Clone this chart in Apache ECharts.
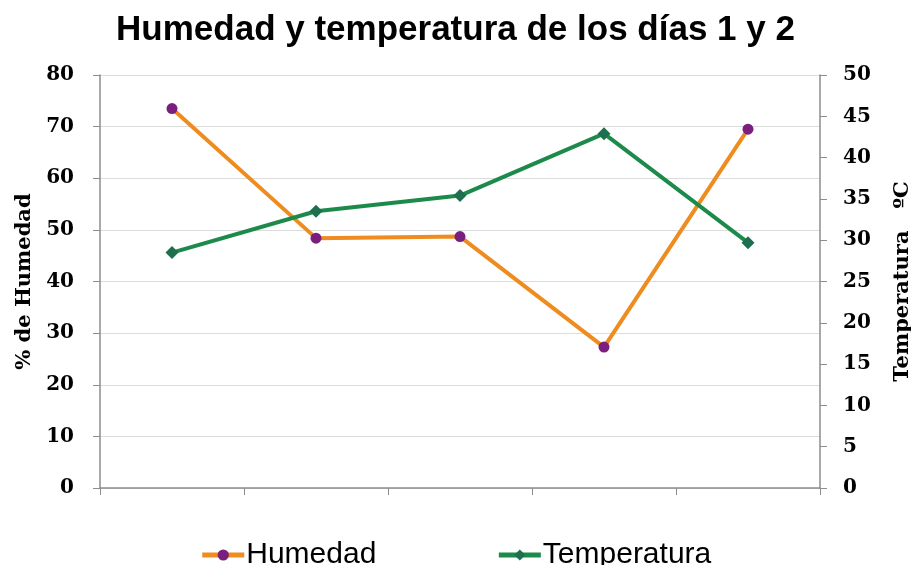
<!DOCTYPE html>
<html>
<head>
<meta charset="utf-8">
<script src="https://cdn.jsdelivr.net/npm/echarts@6/dist/echarts.min.js"></script>
<style>
  html, body { margin: 0; padding: 0; background: #fff; }
  #chart { width: 911px; height: 565px; }
</style>
</head>
<body>
<div id="chart"></div>
<script>
// Humedad (%) y temperatura (ºC) — 5 lecturas de los días 1 y 2
const lecturas = ['1', '2', '3', '4', '5'];
const humedad = [73.5, 48.4, 48.7, 27.3, 69.5];
const temperatura = [28.5, 33.5, 35.4, 42.9, 29.7];

const serif = '"DejaVu Serif", serif';
const sans = '"Liberation Sans", Arial, sans-serif';
const axisGray = '#8c8c8c';

const chart = echarts.init(document.getElementById('chart'), null, { renderer: 'canvas' });

chart.setOption({
  animation: false,
  title: {
    text: 'Humedad y temperatura de los días 1 y 2',
    left: 'center', top: 8,
    textStyle: { fontFamily: sans, fontWeight: 'bold', fontSize: 35, color: '#000' },
  },
  grid: { left: 100, right: 91, top: 75, bottom: 77, outerBoundsMode: 'none' },
  legend: {
    top: 535, left: 'center',
    itemWidth: 42, itemHeight: 14, itemGap: 120,
    lineStyle: { width: 5 },
    textStyle: { fontFamily: sans, fontSize: 30, color: '#000', padding: [0, 0, 0, -3] },
    data: ['Humedad', 'Temperatura'],
  },
  xAxis: {
    type: 'category',
    data: lecturas,
    boundaryGap: true,
    axisLine: { lineStyle: { color: axisGray, width: 1.5 } },
    axisTick: { show: true, length: 7, lineStyle: { color: axisGray } },
    axisLabel: { show: false },
  },
  yAxis: [{
    type: 'value', min: 0, max: 80, interval: 10,
    name: '% de Humedad', nameLocation: 'middle', nameGap: 58, nameRotate: 90,
    nameTextStyle: { fontFamily: serif, fontWeight: 'bold', fontSize: 21, color: '#000' },
    axisLine: { show: true, lineStyle: { color: axisGray, width: 1.5 } },
    axisTick: { show: true, length: 7, lineStyle: { color: axisGray } },
    axisLabel: { fontFamily: serif, fontWeight: 'bold', fontSize: 20, color: '#000', margin: 26 },
    splitLine: { lineStyle: { color: '#dcdcdc' } },
  }, {
    type: 'value', min: 0, max: 50, interval: 5, position: 'right',
    name: 'Temperatura   ºC', nameLocation: 'middle', nameGap: 72, nameRotate: 90,
    nameTextStyle: { fontFamily: serif, fontWeight: 'bold', fontSize: 21, color: '#000' },
    axisLine: { show: true, lineStyle: { color: axisGray, width: 1.5 } },
    axisTick: { show: true, length: 7, lineStyle: { color: axisGray } },
    axisLabel: { fontFamily: serif, fontWeight: 'bold', fontSize: 20, color: '#000', margin: 23 },
    splitLine: { show: false },
  }],
  series: [{
    name: 'Humedad',
    type: 'line',
    yAxisIndex: 0,
    data: humedad,
    symbol: 'circle', symbolSize: 11,
    lineStyle: { color: '#ef8c1f', width: 4 },
    itemStyle: { color: '#7a1f7d' },
  }, {
    name: 'Temperatura',
    type: 'line',
    yAxisIndex: 1,
    data: temperatura,
    symbol: 'diamond', symbolSize: 13,
    lineStyle: { color: '#1d8a4b', width: 4 },
    itemStyle: { color: '#1e6f50' },
  }],
});
</script>
</body>
</html>
